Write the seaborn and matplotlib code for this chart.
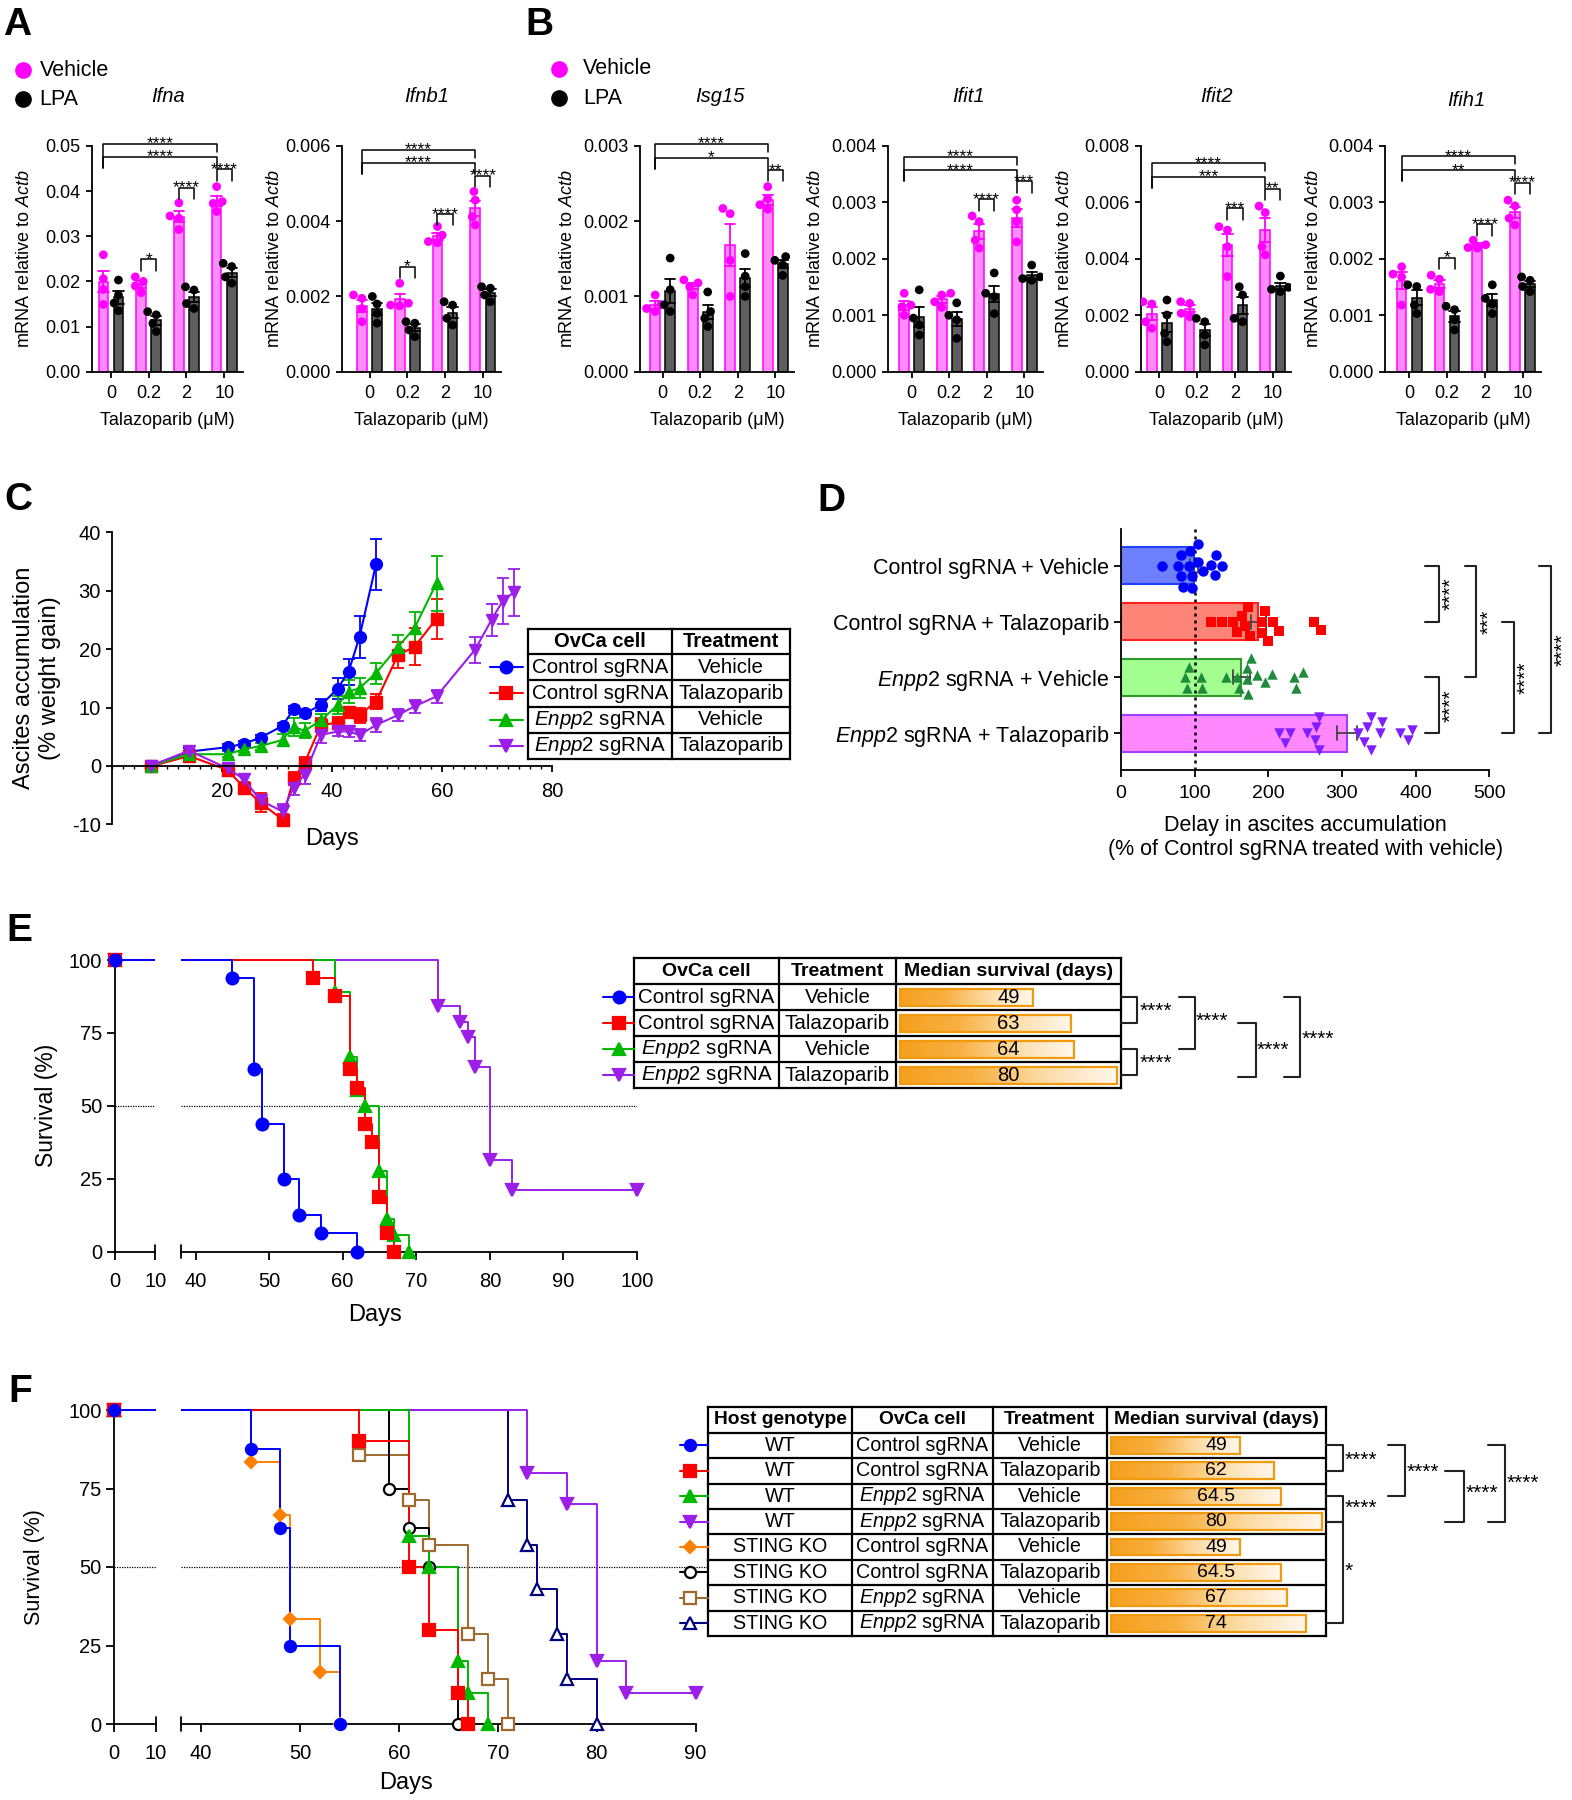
import numpy as np
import pandas as pd
import matplotlib
matplotlib.use('Agg')
import matplotlib.pyplot as plt
import seaborn as sns
from matplotlib.colors import LinearSegmentedColormap
from matplotlib.ticker import FormatStrFormatter, MultipleLocator

# ===================== DATA =====================
concentrations = ['0', '0.2', '2', '10']
treatments = ['Vehicle', 'LPA']
genes = ['Ifna', 'Ifnb1', 'Isg15', 'Ifit1', 'Ifit2', 'Ifih1']

ifna_vehicle = [[0.0259, 0.0206, 0.0182, 0.0149], [0.0210, 0.0200, 0.0190, 0.0175],
                [0.0374, 0.0345, 0.0340, 0.0315], [0.0410, 0.0377, 0.0373, 0.0355]]
ifna_lpa = [[0.0203, 0.0170, 0.0152, 0.0135], [0.0133, 0.0126, 0.0107, 0.0089],
            [0.0188, 0.0181, 0.0151, 0.0140], [0.0240, 0.0233, 0.0210, 0.0196]]
ifnb1_vehicle = [[0.00204, 0.00195, 0.00168, 0.00133], [0.00235, 0.00182, 0.00177, 0.00175],
                 [0.00386, 0.00363, 0.00346, 0.00343], [0.00479, 0.00456, 0.00412, 0.00390]]
ifnb1_lpa = [[0.00200, 0.00180, 0.00155, 0.00129], [0.00133, 0.00129, 0.00111, 0.00093],
             [0.00186, 0.00177, 0.00142, 0.00124], [0.00226, 0.00222, 0.00204, 0.00186]]
isg15_vehicle = [[0.00102, 0.00089, 0.00084, 0.00080], [0.00122, 0.00118, 0.00113, 0.00102],
                 [0.00217, 0.00210, 0.00148, 0.00100], [0.00246, 0.00230, 0.00222, 0.00216]]
isg15_lpa = [[0.00151, 0.00109, 0.00089, 0.00080], [0.00106, 0.00080, 0.00071, 0.00060],
             [0.00157, 0.00127, 0.00113, 0.00100], [0.00153, 0.00148, 0.00142, 0.00128]]
ifit1_vehicle = [[0.00139, 0.00118, 0.00115, 0.00100], [0.00139, 0.00136, 0.00124, 0.00114],
                 [0.00276, 0.00266, 0.00233, 0.00219], [0.00304, 0.00287, 0.00266, 0.00230]]
ifit1_lpa = [[0.00145, 0.00095, 0.00083, 0.00065], [0.00122, 0.00100, 0.00092, 0.00059],
             [0.00175, 0.00139, 0.00133, 0.00103], [0.00189, 0.00168, 0.00165, 0.00162]]
ifit2_vehicle = [[0.00248, 0.00240, 0.00177, 0.00154], [0.00248, 0.00242, 0.00207, 0.00195],
                 [0.00514, 0.00502, 0.00443, 0.00337], [0.00587, 0.00564, 0.00443, 0.00414]]
ifit2_lpa = [[0.00254, 0.00201, 0.00136, 0.00106], [0.00189, 0.00177, 0.00130, 0.00095],
             [0.00301, 0.00272, 0.00189, 0.00177], [0.00339, 0.00299, 0.00292, 0.00284]]
ifih1_vehicle = [[0.00186, 0.00173, 0.00168, 0.00118], [0.00171, 0.00164, 0.00146, 0.00142],
                 [0.00233, 0.00225, 0.00220, 0.00219], [0.00304, 0.00294, 0.00272, 0.00260]]
ifih1_lpa = [[0.00154, 0.00151, 0.00118, 0.00103], [0.00116, 0.00110, 0.00092, 0.00074],
             [0.00154, 0.00130, 0.00120, 0.00103], [0.00168, 0.00162, 0.00151, 0.00142]]

# Panel C: ascites accumulation (% weight gain), mean and SEM
c_days_ctrl_vehicle = [7, 14, 21, 24, 27, 31, 33, 35, 38, 41, 43, 45, 48]
c_mean_ctrl_vehicle = [0, 2.45, 3.2, 3.8, 4.85, 6.85, 9.7, 9.0, 10.4, 13.2, 16.1, 22.1, 34.5]
c_sem_ctrl_vehicle = [0.5, 0.6, 0.5, 0.5, 0.5, 0.5, 0.6, 0.6, 1.0, 1.8, 2.2, 3.6, 4.3]
c_days_ctrl_talazoparib = [7, 14, 21, 24, 27, 31, 33, 35, 38, 41, 43, 45, 48, 52, 55, 59]
c_mean_ctrl_talazoparib = [-0.1, 1.7, -0.7, -3.7, -6.3, -9.2, -2.1, 0.5, 7.0, 7.4, 9.3, 8.7, 11.0, 19.0, 20.4, 25.2]
c_sem_ctrl_talazoparib = [0.6, 0.6, 1.0, 1.0, 1.6, 0.9, 1.1, 1.1, 1.2, 1.0, 0.85, 1.3, 1.3, 2.3, 3.2, 3.4]
c_days_enpp2_vehicle = [7, 14, 21, 24, 27, 31, 33, 35, 38, 41, 43, 45, 48, 52, 55, 59]
c_mean_enpp2_vehicle = [0, 2.0, 2.0, 2.85, 3.4, 4.45, 6.7, 6.0, 7.8, 10.4, 12.7, 13.3, 15.9, 20.4, 23.6, 31.3]
c_sem_enpp2_vehicle = [0.5, 0.5, 0.5, 0.5, 0.6, 1.0, 1.5, 1.3, 1.1, 1.5, 2.0, 1.7, 1.8, 2.1, 2.8, 4.7]
c_days_enpp2_talazoparib = [7, 14, 21, 24, 27, 31, 33, 35, 38, 41, 43, 45, 48, 52, 55, 59, 66, 69, 71, 73]
c_mean_enpp2_talazoparib = [0, 2.6, -0.4, -2.3, -5.9, -7.8, -3.7, -1.5, 5.3, 5.9, 5.9, 5.3, 7.0, 8.7, 10.2,
                            11.9, 19.9, 25.0, 28.2, 29.7]
c_sem_enpp2_talazoparib = [0.5, 0.8, 0.9, 0.8, 1.0, 1.3, 1.3, 1.6, 1.4, 0.8, 0.9, 1.0, 1.2, 1.0, 1.1,
                           1.1, 2.2, 2.7, 3.9, 4.0]
c_cells = ['Control sgRNA', 'Control sgRNA', 'Enpp2 sgRNA', 'Enpp2 sgRNA']
c_treatments = ['Vehicle', 'Talazoparib', 'Vehicle', 'Talazoparib']

# Panel D: delay in ascites accumulation (% of control sgRNA + vehicle)
d_groups = ['Control sgRNA + Vehicle', 'Control sgRNA + Talazoparib',
            'Enpp2 sgRNA + Vehicle', 'Enpp2 sgRNA + Talazoparib']
delay_ctrl_vehicle = [81, 94, 105, 84, 122, 137, 55, 77, 97, 129, 92, 105, 127, 81, 97, 111]
delay_ctrl_talazoparib = [169, 195, 215, 157, 175, 191, 207, 262, 122, 137, 152, 173, 191, 271, 164, 200]
delay_enpp2_vehicle = [171, 195, 247, 90, 110, 160, 177, 205, 235, 92, 142, 109, 157, 172, 237, 87, 171, 184]
delay_enpp2_talazoparib = [330, 351, 269, 322, 340, 215, 230, 253, 269, 379, 395, 222, 265, 339, 390,
                           264, 354, 334]

# Panel E: Kaplan-Meier survival (%)
e_days_ctrl_vehicle = [0, 45, 48, 49, 52, 54, 57, 62]
e_surv_ctrl_vehicle = [100, 93.75, 62.5, 43.75, 25, 12.5, 6.25, 0]
e_days_ctrl_talazoparib = [0, 56, 59, 61, 62, 63, 64, 65, 66, 67]
e_surv_ctrl_talazoparib = [100, 93.75, 87.5, 62.5, 56.25, 43.75, 37.5, 18.75, 6.25, 0]
e_days_enpp2_vehicle = [0, 59, 61, 62, 63, 65, 66, 67, 69]
e_surv_enpp2_vehicle = [100, 88.9, 66.7, 55.6, 50, 27.8, 11.1, 5.6, 0]
e_days_enpp2_talazoparib = [0, 73, 76, 77, 78, 80, 83, 100]
e_surv_enpp2_talazoparib = [100, 84.2, 78.9, 73.7, 63.2, 31.6, 21.1, 21.1]
e_median = [49, 63, 64, 80]

# Panel F: Kaplan-Meier survival (%) in WT and STING KO hosts
f_host = ['WT', 'WT', 'WT', 'WT', 'STING KO', 'STING KO', 'STING KO', 'STING KO']
f_cells = ['Control sgRNA', 'Control sgRNA', 'Enpp2 sgRNA', 'Enpp2 sgRNA'] * 2
f_treatments = ['Vehicle', 'Talazoparib'] * 4
f_days_wt_ctrl_vehicle = [0, 45, 48, 49, 54]
f_surv_wt_ctrl_vehicle = [100, 87.5, 62.5, 25, 0]
f_days_wt_ctrl_talazoparib = [0, 56, 61, 63, 66, 67]
f_surv_wt_ctrl_talazoparib = [100, 90, 50, 30, 10, 0]
f_days_wt_enpp2_vehicle = [0, 61, 63, 66, 67, 69]
f_surv_wt_enpp2_vehicle = [100, 60, 50, 20, 10, 0]
f_days_wt_enpp2_talazoparib = [0, 73, 77, 80, 83, 90]
f_surv_wt_enpp2_talazoparib = [100, 80, 70, 20, 10, 10]
f_days_ko_ctrl_vehicle = [0, 45, 48, 49, 52, 54]
f_surv_ko_ctrl_vehicle = [100, 83.3, 66.7, 33.3, 16.7, 0]
f_days_ko_ctrl_talazoparib = [0, 59, 61, 63, 66]
f_surv_ko_ctrl_talazoparib = [100, 75, 62.5, 50, 0]
f_days_ko_enpp2_vehicle = [0, 56, 61, 63, 67, 69, 71]
f_surv_ko_enpp2_vehicle = [100, 85.7, 71.4, 57.1, 28.6, 14.3, 0]
f_days_ko_enpp2_talazoparib = [0, 71, 73, 74, 76, 77, 80]
f_surv_ko_enpp2_talazoparib = [100, 71.4, 57.1, 42.9, 28.6, 14.3, 0]
f_median = [49, 62, 64.5, 80, 49, 64.5, 67, 74]

# ===================== STYLE =====================
sns.set_theme(style='ticks', rc={
    'axes.edgecolor': 'black', 'text.color': 'black', 'axes.labelcolor': 'black',
    'xtick.color': 'black', 'ytick.color': 'black', 'axes.linewidth': 1.3,
    'xtick.major.width': 1.3, 'ytick.major.width': 1.3,
    'xtick.major.size': 4.5, 'ytick.major.size': 4.5,
})
plt.rcParams['font.family'] = ['Liberation Sans', 'DejaVu Sans']
plt.rcParams['mathtext.fontset'] = 'custom'
plt.rcParams['mathtext.rm'] = 'Liberation Sans'
plt.rcParams['mathtext.it'] = 'Liberation Sans:italic'
plt.rcParams['mathtext.bf'] = 'Liberation Sans:bold'
plt.rcParams['axes.unicode_minus'] = False

BLUE, RED, GREEN, PURPLE = '#0000FF', '#FF0000', '#00B800', '#9B1FE8'
ORANGE, BROWN, NAVY = '#FF8000', '#9C6A2E', '#000080'
MAGENTA, PINK_BAR, GREY_BAR = '#FF00FF', '#FF8CFF', '#5E5E5E'

W, H = 1572, 1800
fig = plt.figure(figsize=(W / 100, H / 100), dpi=100)


def rect(x0, y0, x1, y1):
    return [x0 / W, 1 - y1 / H, (x1 - x0) / W, (y1 - y0) / H]


def new_ax(x0, y0, x1, y1):
    ax = fig.add_axes(rect(x0, y0, x1, y1))
    ax.set_facecolor('none')
    return ax


def ylabel_at(ax, text, box, xc, fs, nlines=1):
    x0, y0, x1, y1 = box
    em = fs * 100 / 72
    right = xc + nlines * 1.2 * em / 2
    ax.set_ylabel(text, fontsize=fs)
    ax.yaxis.set_label_coords((right - x0) / (x1 - x0), 0.5)


def xlabel_at(ax, text, box, yc, fs, nlines=1):
    x0, y0, x1, y1 = box
    em = fs * 100 / 72
    top = yc - nlines * 1.2 * em / 2
    ax.set_xlabel(text, fontsize=fs)
    ax.xaxis.set_label_coords(0.5, (y1 - top) / (y1 - y0))


def ital(s):
    return s.replace('Enpp2', r'$\it{Enpp2}$')


# overlay in pixel coordinates for tables, brackets, letters
ov = fig.add_axes([0, 0, 1, 1])
ov.set_xlim(0, W)
ov.set_ylim(H, 0)
ov.axis('off')
ov.set_zorder(10)

# ===================== A / B =====================
bar_specs = [
    ('Ifna', ifna_vehicle, ifna_lpa, 0.05, 0.01, '%.2f'),
    ('Ifnb1', ifnb1_vehicle, ifnb1_lpa, 0.006, 0.002, '%.3f'),
    ('Isg15', isg15_vehicle, isg15_lpa, 0.003, 0.001, '%.3f'),
    ('Ifit1', ifit1_vehicle, ifit1_lpa, 0.004, 0.001, '%.3f'),
    ('Ifit2', ifit2_vehicle, ifit2_lpa, 0.008, 0.002, '%.3f'),
    ('Ifih1', ifih1_vehicle, ifih1_lpa, 0.004, 0.001, '%.3f'),
]
ax_layout = [(91.9, 242.8, 110.9, 37.77), (342, 501, 369.5, 37.77), (640, 794, 662.7, 37.5),
             (887.7, 1043.3, 911.7, 37.5), (1140.8, 1291, 1159.4, 37.8), (1385, 1541, 1409.2, 37.77)]
title_pos = [(167.7, 96.7), (427, 96.7), (720, 96.7), (968.3, 96.7), (1216.5, 96.7), (1465.9, 100)]
ylab_x = [22.4, 272, 565, 813, 1062, 1311.5]
# long brackets (outer label, inner label, outer top, inner top) as fraction of ymax
sig_long = [('****', '****', 1.01, 0.952), ('****', '****', 0.982, 0.926), ('****', '*', 1.01, 0.947),
            ('****', '****', 0.953, 0.893), ('****', '***', 0.924, 0.864), ('****', '**', 0.955, 0.893)]
sig_short = [[(1, '*', 0.498), (2, '****', 0.816), (3, '****', 0.896)],
             [(1, '*', 0.465), (2, '****', 0.698), (3, '****', 0.867)],
             [(3, '**', 0.893)],
             [(2, '****', 0.763), (3, '***', 0.843)],
             [(2, '***', 0.724), (3, '**', 0.81)],
             [(1, '*', 0.505), (2, '****', 0.653), (3, '****', 0.838)]]


def bracket(ax, x1, x2, ytop, yb1, yb2, label, fs=12.5):
    ax.plot([x1, x1, x2, x2], [yb1, ytop, ytop, yb2], color='black', lw=1.1, clip_on=False, zorder=5)
    ax.annotate(label, ((x1 + x2) / 2, ytop), xytext=(0, 0), textcoords='offset points',
                ha='center', va='center', fontsize=fs, annotation_clip=False)


for k, (gene, veh, lpa, ymax, ystep, fmt) in enumerate(bar_specs):
    xa, xe, t0, sp = ax_layout[k]
    box = (xa, 146, xe, 371.7)
    ax = new_ax(*box)
    rows = []
    for ci, c in enumerate(concentrations):
        for t, arr in (('Vehicle', veh), ('LPA', lpa)):
            for v in arr[ci]:
                rows.append((c, t, v))
    df = pd.DataFrame(rows, columns=['conc', 'treat', 'value'])
    sns.barplot(data=df, x='conc', y='value', hue='treat', order=concentrations, hue_order=treatments,
                palette={'Vehicle': PINK_BAR, 'LPA': GREY_BAR}, width=0.8, gap=0.36, errorbar='se',
                capsize=0.55, err_kws={'linewidth': 1.3}, saturation=1, legend=False, ax=ax)
    for ln in ax.lines:
        xm = np.nanmean(ln.get_xdata())
        ln.set_color(MAGENTA if xm < round(xm) else 'black')
        ln.set_zorder(4)
    for p in ax.patches:
        fc = p.get_facecolor()
        p.set_edgecolor(MAGENTA if fc[0] > 0.8 else 'black')
        p.set_linewidth(1.1)
    sns.swarmplot(data=df, x='conc', y='value', hue='treat', order=concentrations, hue_order=treatments,
                  palette={'Vehicle': MAGENTA, 'LPA': 'black'}, dodge=True, size=6.3, legend=False,
                  ax=ax, zorder=5)
    ax.set_xlim(-(t0 - xa) / sp, (xe - t0) / sp)
    ax.set_ylim(0, ymax)
    ax.set_yticks(np.arange(0, ymax + ystep / 2, ystep))
    ax.yaxis.set_major_formatter(FormatStrFormatter(fmt))
    ax.tick_params(labelsize=13, length=4.5)
    ax.tick_params(axis='x', pad=5)
    sns.despine(ax=ax)
    xlabel_at(ax, 'Talazoparib (μM)', box, 423, 13)
    ylabel_at(ax, r'mRNA relative to $\it{Actb}$', box, ylab_x[k], 13)
    ov.text(title_pos[k][0], title_pos[k][1], gene, style='italic', fontsize=14.5, ha='center', va='center')
    lo, li, to, ti = sig_long[k]
    bracket(ax, -0.2, 2.8, ti * ymax, (ti - 0.05) * ymax, (ti - 0.05) * ymax, li)
    bracket(ax, -0.2, 3 - 0.2, to * ymax, (ti - 0.05) * ymax, (to - 0.035) * ymax, lo)
    for ci, lab, top in sig_short[k]:
        bracket(ax, ci - 0.2, ci + 0.2, top * ymax, (top - 0.05) * ymax, (top - 0.05) * ymax, lab)

# legends A and B
for lx, tx, y1, y2 in ((23.4, 39.6, 70, 99.3), (559, 583, 69, 98.3)):
    ov.plot(lx, y1, 'o', color=MAGENTA, ms=11)
    ov.text(tx, y1, 'Vehicle', fontsize=15.5, va='center')
    ov.plot(lx, y2, 'o', color='black', ms=11)
    ov.text(tx, y2, 'LPA', fontsize=15.5, va='center')

# ===================== C =====================
box_c = (112, 532.3, 552, 824.3)
axc = new_ax(*box_c)
c_series = [
    (c_days_ctrl_vehicle, c_mean_ctrl_vehicle, c_sem_ctrl_vehicle, BLUE, 'o'),
    (c_days_ctrl_talazoparib, c_mean_ctrl_talazoparib, c_sem_ctrl_talazoparib, RED, 's'),
    (c_days_enpp2_vehicle, c_mean_enpp2_vehicle, c_sem_enpp2_vehicle, GREEN, '^'),
    (c_days_enpp2_talazoparib, c_mean_enpp2_talazoparib, c_sem_enpp2_talazoparib, PURPLE, 'v'),
]
for days, mean, sem, col, mk in c_series:
    axc.errorbar(days, mean, yerr=sem, color=col, marker=mk, ms=8.5, lw=1.5, elinewidth=1.3,
                 capsize=4.5, capthick=1.3, clip_on=False)
axc.set_xlim(0, 80)
axc.set_ylim(-10, 40)
axc.set_xticks([20, 40, 60, 80])
axc.xaxis.set_minor_locator(MultipleLocator(2))
axc.tick_params(axis='x', which='minor', length=2.5, width=1.0)
axc.set_yticks([-10, 0, 10, 20, 30, 40])
axc.tick_params(labelsize=14.5)
axc.tick_params(axis='x', which='major', pad=7)
sns.despine(ax=axc)
axc.spines['bottom'].set_position(('data', 0))
xlabel_at(axc, 'Days', box_c, 842, 17)
ylabel_at(axc, 'Ascites accumulation\n(% weight gain)', box_c, 32.5, 17, nlines=2)


def draw_table(xs, ys, header, rows, fs_head, fs_body, lw=1.6):
    for y in ys:
        ov.plot([xs[0], xs[-1]], [y, y], color='black', lw=lw, solid_capstyle='projecting')
    for x in xs:
        ov.plot([x, x], [ys[0], ys[-1]], color='black', lw=lw, solid_capstyle='projecting')
    for j, h in enumerate(header):
        ov.text((xs[j] + xs[j + 1]) / 2, (ys[0] + ys[1]) / 2, h, fontsize=fs_head, fontweight='bold',
                ha='center', va='center')
    for i, row in enumerate(rows):
        for j, cell in enumerate(row):
            ov.text((xs[j] + xs[j + 1]) / 2, (ys[i + 1] + ys[i + 2]) / 2, ital(cell), fontsize=fs_body,
                    ha='center', va='center')


def legend_samples(x0, x1, xm, ys, styles, mss):
    for y, (col, mk, mfc), ms in zip(ys, styles, mss):
        ov.plot([x0, x1], [y, y], color=col, lw=1.5)
        ov.plot(xm, y, marker=mk, color=col, mfc=mfc, ms=ms, mew=1.6)


c_ys = [629.3, 654.3, 680.3, 706.5, 732.6, 758.7]
draw_table([528, 672.4, 790], c_ys, ['OvCa cell', 'Treatment'],
           [[a, b] for a, b in zip(c_cells, c_treatments)], 14.5, 14.8)
legend_samples(490, 523, 506, [(c_ys[i] + c_ys[i + 1]) / 2 for i in range(1, 5)],
               [(BLUE, 'o', BLUE), (RED, 's', RED), (GREEN, '^', GREEN), (PURPLE, 'v', PURPLE)], [8.5] * 4)

# ===================== D =====================
box_d = (1121, 529, 1489.3, 770)
axd = new_ax(*box_d)
d_values = [delay_ctrl_vehicle, delay_ctrl_talazoparib, delay_enpp2_vehicle, delay_enpp2_talazoparib]
df_d = pd.DataFrame({'group': sum([[g] * len(v) for g, v in zip(d_groups, d_values)], []),
                     'value': np.concatenate(d_values)})
D_FILL = ['#6F80FF', '#FF8478', '#A2FF90', '#FF88FF']
D_EDGE = ['#2040FF', '#FF2020', '#2E9A2E', '#A040FF']
D_PTS = ['#0000FF', '#FF0000', '#1E8C3A', '#7F1FFF']
D_MK = ['o', 's', '^', 'v']
sns.barplot(data=df_d, x='value', y='group', hue='group', order=d_groups, hue_order=d_groups,
            palette=dict(zip(d_groups, D_FILL)), orient='h', width=0.66, errorbar='se', capsize=0.25,
            err_kws={'linewidth': 1.3, 'color': '#444444'}, saturation=1, legend=False, ax=axd)
for p, ec in zip(axd.patches, D_EDGE):
    p.set_edgecolor(ec)
    p.set_linewidth(1.5)
axd.axvline(100, color='black', ls=(0, (1.2, 1.6)), lw=1.8, zorder=3)
for g, col, mk in zip(d_groups, D_PTS, D_MK):
    sns.swarmplot(data=df_d[df_d['group'] == g], x='value', y='group', order=d_groups, orient='h',
                  color=col, marker=mk, size=7.5, ax=axd, zorder=5)
axd.set_xlim(0, 500)
axd.set_ylim(3.66, -0.66)
axd.set_xticks([0, 100, 200, 300, 400, 500])
axd.set_yticks(range(4))
axd.set_yticklabels([ital(g) for g in d_groups], fontsize=15.5)
axd.tick_params(axis='x', labelsize=14, pad=6)
axd.tick_params(length=5)
axd.set_ylabel('')
sns.despine(ax=axd)
xlabel_at(axd, 'Delay in ascites accumulation\n(% of Control sgRNA treated with vehicle)', box_d, 840.5, 15.5,
          nlines=2)

# D brackets (pixel overlay)
d_rows = [565.7, 622, 677.3, 733.3]


def vbracket(x, ya, yb, arm_x, lab, lx, ly, rot=0, fs=15, ha='left', top_arm=None):
    ov.plot([arm_x if top_arm is None else top_arm, x, x, arm_x], [ya, ya, yb, yb], color='#222222', lw=1.5)
    ov.text(lx, ly, lab, fontsize=fs, rotation=rot, ha=ha, va='center')


vbracket(1439, d_rows[0], d_rows[1], 1425, '****', 1451, (d_rows[0] + d_rows[1]) / 2, rot=90, ha='center')
vbracket(1476, d_rows[0], d_rows[2], 1464.7, '***', 1489, d_rows[1], rot=90, ha='center')
vbracket(1439, d_rows[2], d_rows[3], 1425, '****', 1451, (d_rows[2] + d_rows[3]) / 2, rot=90, ha='center')
vbracket(1514, d_rows[1], d_rows[3], 1501.6, '****', 1526, d_rows[2], rot=90, ha='center')
vbracket(1551, d_rows[0], d_rows[3], 1538.5, '****', 1563, (d_rows[1] + d_rows[2]) / 2, rot=90, ha='center')

# ===================== E / F (Kaplan-Meier) =====================
grad_cmap = LinearSegmentedColormap.from_list('grad', ['#F5A01E', '#F8B040', '#FCDDA8', '#FFF8EE'])


def km_axes(xl0, xl1, xr0, xr1, y100, y0, right_lim, right_ticks):
    pad = 1.5 * (y0 - y100) / 100
    axl = new_ax(xl0, y100 - pad, xl1, y0 + pad)
    axr = new_ax(xr0, y100 - pad, xr1, y0 + pad)
    for a in (axl, axr):
        a.set_ylim(-1.5, 101.5)
        sns.despine(ax=a)
        a.spines['bottom'].set_position(('data', 0))
        a.tick_params(labelsize=14.5, length=5.5)
        a.tick_params(axis='x', pad=9)
    axl.set_xlim(0, 10)
    axl.set_xticks([0, 10])
    axl.spines['left'].set_bounds(0, 100)
    axl.set_yticks([0, 25, 50, 75, 100])
    axr.set_xlim(38, right_lim)
    axr.set_xticks(right_ticks)
    axr.spines['left'].set_visible(False)
    axr.set_yticks([])
    axl.plot([10, 10], [0, 2.3], color='black', lw=1.3, clip_on=False)
    axr.plot([38, 38], [-2.3, 2.3], color='black', lw=1.3, clip_on=False)
    for a in (axl, axr):
        a.axhline(50, color='black', ls=(0, (1, 1)), lw=0.9, zorder=1)
    return axl, axr


def km(axl, axr, days, surv, color, marker, mfc, ms):
    d = np.array(days, dtype=float)
    s = np.array(surv, dtype=float)
    for a, lo, hi in ((axl, 0, 10), (axr, 38, 1000)):
        a.step(d, s, where='post', color=color, lw=1.4, zorder=3)
        m = (d >= lo) & (d <= hi)
        a.plot(d[m], s[m], ls='', marker=marker, color=color, mfc=mfc, ms=ms, mew=1.6, clip_on=False,
               zorder=4)


def median_bars(box, values, px_per_unit, inset, fs):
    x0, y0, x1, y1 = box
    axb = new_ax(*box)
    n = len(values)
    h = 0.66
    for i, v in enumerate(values):
        axb.imshow(np.linspace(0, 1, 256)[None, :], cmap=grad_cmap, extent=(0, v, i + h / 2, i - h / 2),
                   aspect='auto', zorder=1)
    axb.barh(range(n), values, height=h, fill=False, edgecolor='#F29A0E', linewidth=1.6, zorder=2)
    left = -inset / px_per_unit
    right = left + (x1 - x0) / px_per_unit
    axb.set_xlim(left, right)
    axb.set_ylim(n - 0.5, -0.5)
    for i, v in enumerate(values):
        axb.text((left + right) / 2, i, f'{v:g}', ha='center', va='center', fontsize=fs, zorder=3)
    axb.axis('off')


# ---- E ----
axel, axer = km_axes(114.7, 155.4, 180.8, 637, 960, 1251.7, 100, [40, 50, 60, 70, 80, 90, 100])
e_series = [
    (e_days_ctrl_vehicle, e_surv_ctrl_vehicle, BLUE, 'o', BLUE),
    (e_days_ctrl_talazoparib, e_surv_ctrl_talazoparib, RED, 's', RED),
    (e_days_enpp2_vehicle, e_surv_enpp2_vehicle, GREEN, '^', GREEN),
    (e_days_enpp2_talazoparib, e_surv_enpp2_talazoparib, PURPLE, 'v', PURPLE),
]
for days, surv, col, mk, mfc in reversed(e_series):
    km(axel, axer, days, surv, col, mk, mfc, 8.5)
ylabel_at(axel, 'Survival (%)', (114.7, 955.6, 155.4, 1256.1), 44.6, 16.5)
ov.text(375, 1315, 'Days', fontsize=17, ha='center', va='center')

e_ys = [958.3, 984.3, 1010.3, 1036.3, 1062.3, 1088.3]
draw_table([634.4, 778.8, 896, 1120.6], e_ys, ['OvCa cell', 'Treatment', 'Median survival (days)'],
           [[a, b, ''] for a, b in zip(c_cells, c_treatments)], 14, 14.8)
median_bars((896, e_ys[1], 1120.6, e_ys[-1]), e_median, 217.3 / 80, 3.7, 14.5)
legend_samples(602.8, 634, 619, [(e_ys[i] + e_ys[i + 1]) / 2 for i in range(1, 5)],
               [(BLUE, 'o', BLUE), (RED, 's', RED), (GREEN, '^', GREEN), (PURPLE, 'v', PURPLE)], [8.5] * 4)
er = [(e_ys[i] + e_ys[i + 1]) / 2 for i in range(1, 5)]
vbracket(1137.4, er[0], er[1], 1120.6, '****', 1140, 1011.7)
vbracket(1137.4, er[2], er[3], 1120.6, '****', 1140, 1063.3)
vbracket(1194.6, er[0], er[2], 1179, '****', 1196, 1021.7)
vbracket(1255.8, er[1], er[3] + 1.5, 1238, '****', 1257, 1050)
vbracket(1300.2, er[0], er[3] + 1.5, 1284, '****', 1301.5, 1039)

# ---- F ----
axfl, axfr = km_axes(113.9, 156.1, 181.4, 695.6, 1410, 1724, 90, [40, 50, 60, 70, 80, 90])
axfr.hlines(50, 90, 91.3, color='black', ls=(0, (1, 1)), lw=0.9, clip_on=False)
f_series = [
    (f_days_wt_ctrl_vehicle, f_surv_wt_ctrl_vehicle, BLUE, 'o', BLUE),
    (f_days_wt_ctrl_talazoparib, f_surv_wt_ctrl_talazoparib, RED, 's', RED),
    (f_days_wt_enpp2_vehicle, f_surv_wt_enpp2_vehicle, GREEN, '^', GREEN),
    (f_days_wt_enpp2_talazoparib, f_surv_wt_enpp2_talazoparib, PURPLE, 'v', PURPLE),
    (f_days_ko_ctrl_vehicle, f_surv_ko_ctrl_vehicle, ORANGE, 'D', ORANGE),
    (f_days_ko_ctrl_talazoparib, f_surv_ko_ctrl_talazoparib, 'black', 'o', 'white'),
    (f_days_ko_enpp2_vehicle, f_surv_ko_enpp2_vehicle, BROWN, 's', 'white'),
    (f_days_ko_enpp2_talazoparib, f_surv_ko_enpp2_talazoparib, NAVY, '^', 'white'),
]
f_ms = [8 if s[3] != 'D' else 5.8 for s in f_series]
for (days, surv, col, mk, mfc), ms in reversed(list(zip(f_series, f_ms))):
    km(axfl, axfr, days, surv, col, mk, mfc, ms)
ylabel_at(axfl, 'Survival (%)', (113.9, 1405.3, 156.1, 1728.7), 32, 15.5)
ov.text(406, 1783, 'Days', fontsize=17, ha='center', va='center')

f_ys = [1407.3] + [1432.7 + 25.4 * i for i in range(9)]
draw_table([708.4, 851.8, 992.9, 1106.6, 1325.6], f_ys,
           ['Host genotype', 'OvCa cell', 'Treatment', 'Median survival (days)'],
           [[a, b, c, ''] for a, b, c in zip(f_host, f_cells, f_treatments)], 13.8, 14.2)
median_bars((1106.6, f_ys[1], 1325.6, f_ys[-1]), f_median, 211 / 80, 4, 14)
fr = [(f_ys[i] + f_ys[i + 1]) / 2 for i in range(1, 9)]
legend_samples(680, 708.4, 690, fr, [(s[2], s[3], s[4]) for s in f_series], f_ms)
vbracket(1342.7, fr[0], fr[1], 1325.6, '****', 1344.5, 1460)
vbracket(1342.7, fr[2], fr[3], 1325.6, '****', 1344.5, 1508)
vbracket(1405, fr[0], fr[2], 1388, '****', 1406.5, 1472.7)
vbracket(1463.9, 1471, fr[3], 1445, '****', 1465.5, 1493)
vbracket(1504.8, fr[0], fr[3], 1487.7, '****', 1506.5, 1483)
vbracket(1342.7, fr[3], fr[7], 1325.6, '*', 1344.5, 1571.7)

# ===================== panel letters =====================
for lab, x, yb in (('A', 3.4, 35), ('B', 525, 35), ('C', 4, 510), ('D', 817, 510.7), ('E', 6.7, 940.7),
                   ('F', 8.3, 1401.7)):
    ov.text(x, yb, lab, fontsize=28, fontweight='bold', va='baseline', ha='left')

fig.savefig('out.png', dpi=100)
